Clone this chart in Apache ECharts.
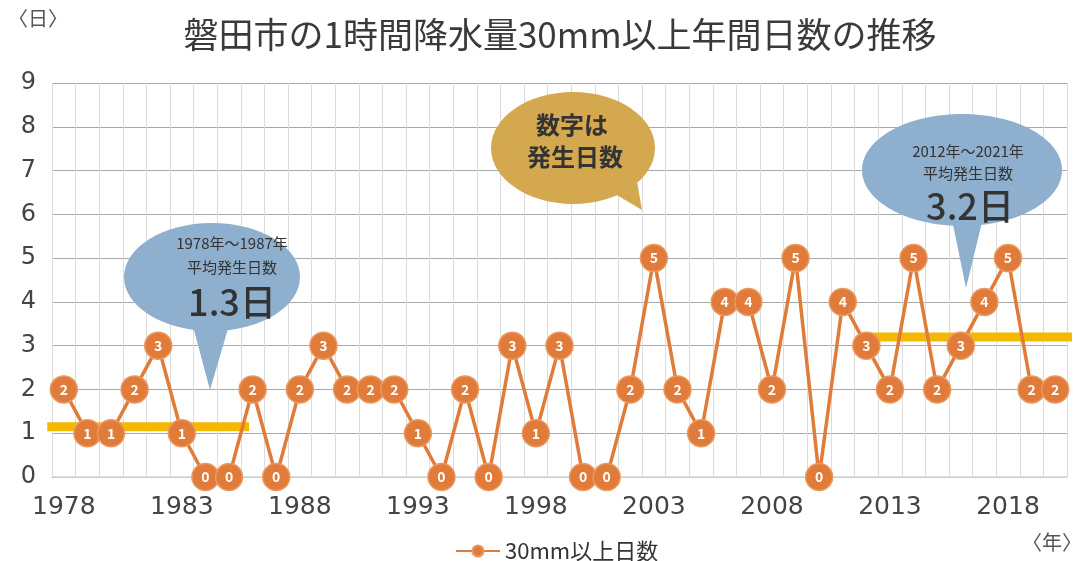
<!DOCTYPE html>
<html>
<head>
<meta charset="utf-8">
<script src="https://cdn.jsdelivr.net/npm/echarts@6/dist/echarts.min.js"></script>
<style>
  html, body { margin: 0; padding: 0; background: #fff; }
  #chart { width: 1078px; height: 561px; }
</style>
</head>
<body>
<div id="chart"></div>
<script>
// 年（1978〜2020）
const years = [
  '1978','1979','1980','1981','1982','1983','1984','1985','1986','1987',
  '1988','1989','1990','1991','1992','1993','1994','1995','1996','1997',
  '1998','1999','2000','2001','2002','2003','2004','2005','2006','2007',
  '2008','2009','2010','2011','2012','2013','2014','2015','2016','2017',
  '2018','2019','2020'
];
// 30mm以上日数
const days = [
  2, 1, 1, 2, 3, 1, 0, 0, 2, 0,
  2, 3, 2, 2, 2, 1, 0, 2, 0, 3,
  1, 3, 0, 0, 2, 5, 2, 1, 4, 4,
  2, 5, 0, 4, 3, 2, 5, 2, 3, 4,
  5, 2, 2
];
const yTicks = [0, 1, 2, 3, 4, 5, 6, 7, 8, 9];
// 平均線（カテゴリ位置, 値）
const avgEarly = [[-0.7, 1.15], [7.85, 1.15]];
const avgLate = [[33.9, 3.2], [43.3, 3.2]];

const FONT = '"Noto Sans CJK JP", "Noto Sans", sans-serif';
const NUMFONT = '"DejaVu Sans", "Noto Sans", sans-serif';
const ORANGE = '#e07b3a';

const chart = echarts.init(document.getElementById('chart'));

const option = {
  backgroundColor: '#fff',
  textStyle: { fontFamily: FONT },
  title: {
    text: '磐田市の1時間降水量30mm以上年間日数の推移',
    left: 555, top: 12, textAlign: 'center',
    textStyle: { fontSize: 35, fontWeight: 'normal', color: '#3a3a3a', fontFamily: FONT }
  },
  legend: {
    bottom: -6, left: 450,
    itemWidth: 44, itemHeight: 14, itemGap: 4,
    data: ['30mm以上日数'],
    textStyle: { fontSize: 22, color: '#333', fontFamily: FONT }
  },
  grid: { left: 52, right: 11, top: 83, bottom: 84 },
  xAxis: [
    {
      type: 'category',
      data: years,
      boundaryGap: true,
      axisLine: { lineStyle: { color: '#d8d8d8', width: 1.5 } },
      axisTick: { show: false },
      axisLabel: { interval: 4, fontSize: 25, color: '#444', margin: 18, fontFamily: NUMFONT },
      splitLine: { show: true, interval: 0, lineStyle: { color: '#dcdcdc', width: 1 } }
    },
    {
      type: 'value', min: -0.5, max: years.length - 0.5,
      show: false, splitLine: { show: false }
    }
  ],
  yAxis: {
    type: 'value',
    min: yTicks[0], max: yTicks[yTicks.length - 1], interval: 1,
    axisLine: { show: false },
    axisTick: { show: false },
    axisLabel: { fontSize: 24, color: '#444', margin: 16, fontFamily: NUMFONT },
    splitLine: { lineStyle: { color: '#a8a8a8', width: 1 } }
  },
  series: [
    {
      name: 'avg1', type: 'line', xAxisIndex: 1, data: avgEarly,
      symbol: 'none', clip: false, silent: true, z: 3,
      lineStyle: { color: '#f5b800', width: 9 }
    },
    {
      name: 'avg2', type: 'line', xAxisIndex: 1, data: avgLate,
      symbol: 'none', clip: false, silent: true, z: 3,
      lineStyle: { color: '#f5b800', width: 9 }
    },
    {
      name: '30mm以上日数', type: 'line', data: days,
      symbol: 'circle', symbolSize: 27, showAllSymbol: true, clip: false, z: 4,
      lineStyle: { color: ORANGE, width: 3.5 },
      itemStyle: { color: ORANGE, borderColor: '#e99a63', borderWidth: 1.5 },
      label: {
        show: true, position: 'inside',
        color: '#fff', fontSize: 14, fontWeight: 'bold', fontFamily: FONT
      }
    }
  ],
  graphic: [
    { type: 'text', left: 8, top: 8,
      style: { text: '〈日〉', fontSize: 20, fill: '#555', fontFamily: FONT } },
    { type: 'text', left: 1022, top: 532,
      style: { text: '〈年〉', fontSize: 20, fill: '#555', fontFamily: FONT } },

    // 吹き出し 1978〜1987
    { type: 'polygon', z: 10, shape: { points: [[190, 315], [232, 315], [210, 390]] },
      style: { fill: '#8eafcd' } },
    { type: 'ellipse', z: 10, shape: { cx: 212, cy: 277, rx: 88, ry: 54 },
      style: { fill: '#8eafcd' } },
    { type: 'text', z: 11, x: 232, y: 243,
      style: { text: '1978年～1987年', fontSize: 15, fill: '#333', align: 'center', verticalAlign: 'middle', fontFamily: FONT } },
    { type: 'text', z: 11, x: 232, y: 267,
      style: { text: '平均発生日数', fontSize: 15, fill: '#333', align: 'center', verticalAlign: 'middle', fontFamily: FONT } },
    { type: 'text', z: 11, x: 232, y: 302,
      style: { text: '1.3日', fontSize: 36, fill: '#333', align: 'center', verticalAlign: 'middle', fontWeight: 500, fontFamily: FONT } },

    // 吹き出し 数字は発生日数
    { type: 'polygon', z: 10, shape: { points: [[600, 185], [635, 170], [642, 210]] },
      style: { fill: '#d3a84e' } },
    { type: 'ellipse', z: 10, shape: { cx: 573, cy: 148, rx: 82, ry: 56 },
      style: { fill: '#d3a84e' } },
    { type: 'text', z: 11, x: 572, y: 125,
      style: { text: '数字は', fontSize: 24, fill: '#333', align: 'center', verticalAlign: 'middle', fontWeight: 'bold', fontFamily: FONT } },
    { type: 'text', z: 11, x: 575, y: 157,
      style: { text: '発生日数', fontSize: 24, fill: '#333', align: 'center', verticalAlign: 'middle', fontWeight: 'bold', fontFamily: FONT } },

    // 吹き出し 2012〜2021
    { type: 'polygon', z: 10, shape: { points: [[950, 210], [985, 210], [966, 288]] },
      style: { fill: '#8eafcd' } },
    { type: 'ellipse', z: 10, shape: { cx: 962, cy: 170, rx: 100, ry: 56 },
      style: { fill: '#8eafcd' } },
    { type: 'text', z: 11, x: 968, y: 151,
      style: { text: '2012年～2021年', fontSize: 15, fill: '#333', align: 'center', verticalAlign: 'middle', fontFamily: FONT } },
    { type: 'text', z: 11, x: 968, y: 173,
      style: { text: '平均発生日数', fontSize: 15, fill: '#333', align: 'center', verticalAlign: 'middle', fontFamily: FONT } },
    { type: 'text', z: 11, x: 970, y: 206,
      style: { text: '3.2日', fontSize: 36, fill: '#333', align: 'center', verticalAlign: 'middle', fontWeight: 500, fontFamily: FONT } }
  ]
};

chart.setOption(option);
</script>
</body>
</html>
